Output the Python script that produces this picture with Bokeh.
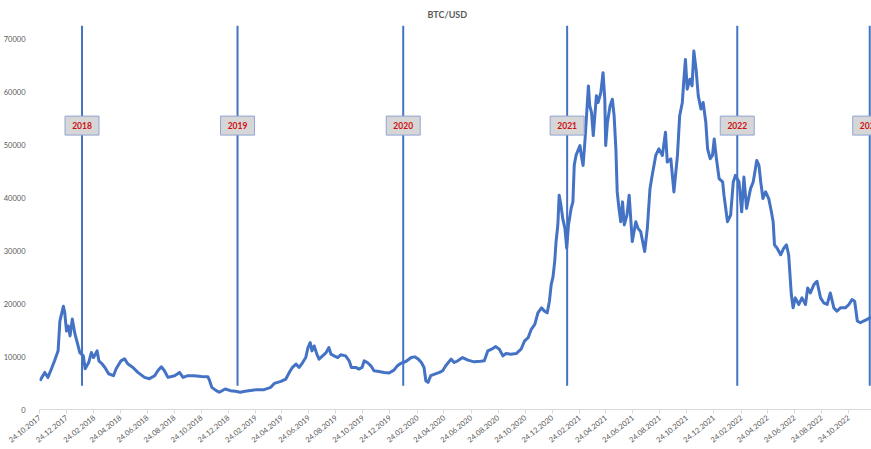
import pandas as pd
from bokeh.plotting import figure
from bokeh.models import FixedTicker, DatetimeTickFormatter, Range1d, NumeralTickFormatter, ColumnDataSource
from bokeh.core.properties import value
from bokeh.embed import file_html
from bokeh.resources import INLINE

TITLE = "BTC/USD"

DATES = [
    "2017-10-25", "2017-11-05", "2017-11-12", "2017-11-20", "2017-11-27", "2017-12-05", "2017-12-09",
    "2017-12-17", "2017-12-20", "2017-12-24", "2017-12-28", "2018-01-01", "2018-01-06", "2018-01-12",
    "2018-01-18", "2018-01-23", "2018-01-31", "2018-02-04", "2018-02-12", "2018-02-18", "2018-02-23",
    "2018-03-03", "2018-03-07", "2018-03-14", "2018-03-21", "2018-03-29", "2018-04-09", "2018-04-15",
    "2018-04-26", "2018-05-04", "2018-05-11", "2018-05-23", "2018-06-03", "2018-06-18", "2018-06-29",
    "2018-07-11", "2018-07-18", "2018-07-26", "2018-08-02", "2018-08-10", "2018-08-25", "2018-09-05",
    "2018-09-13", "2018-09-24", "2018-10-08", "2018-10-24", "2018-11-08", "2018-11-12", "2018-11-17",
    "2018-11-27", "2018-12-04", "2018-12-17", "2018-12-29", "2019-01-09", "2019-01-20", "2019-01-31",
    "2019-02-26", "2019-03-15", "2019-03-30", "2019-04-07", "2019-04-22", "2019-05-03", "2019-05-13",
    "2019-05-18", "2019-05-26", "2019-06-02", "2019-06-10", "2019-06-17", "2019-06-22", "2019-06-27",
    "2019-07-01", "2019-07-06", "2019-07-12", "2019-07-17", "2019-07-25", "2019-08-02", "2019-08-08",
    "2019-08-13", "2019-08-20", "2019-08-28", "2019-09-04", "2019-09-15", "2019-09-23", "2019-09-28",
    "2019-10-08", "2019-10-15", "2019-10-22", "2019-10-27", "2019-11-03", "2019-11-11", "2019-11-18",
    "2019-11-29", "2019-12-11", "2019-12-22", "2020-01-02", "2020-01-10", "2020-01-17", "2020-01-29",
    "2020-02-10", "2020-02-18", "2020-02-26", "2020-03-04", "2020-03-10", "2020-03-14", "2020-03-19",
    "2020-03-25", "2020-04-03", "2020-04-14", "2020-04-21", "2020-04-28", "2020-05-10", "2020-05-17",
    "2020-05-25", "2020-06-05", "2020-06-17", "2020-07-01", "2020-07-16", "2020-07-24", "2020-08-01",
    "2020-08-12", "2020-08-19", "2020-08-27", "2020-09-04", "2020-09-11", "2020-09-22", "2020-10-04",
    "2020-10-15", "2020-10-23", "2020-10-31", "2020-11-07", "2020-11-15", "2020-11-22", "2020-11-30",
    "2020-12-07", "2020-12-13", "2020-12-18", "2020-12-22", "2020-12-26", "2020-12-30", "2021-01-02",
    "2021-01-06", "2021-01-09", "2021-01-13", "2021-01-17", "2021-01-22", "2021-01-26", "2021-01-30",
    "2021-02-05", "2021-02-09", "2021-02-12", "2021-02-16", "2021-02-25", "2021-02-28", "2021-03-04",
    "2021-03-08", "2021-03-16", "2021-03-19", "2021-03-23", "2021-03-27", "2021-04-03", "2021-04-07",
    "2021-04-13", "2021-04-18", "2021-04-22", "2021-04-24", "2021-04-28", "2021-05-04", "2021-05-09",
    "2021-05-13", "2021-05-17", "2021-05-20", "2021-05-24", "2021-05-28", "2021-06-01", "2021-06-05",
    "2021-06-11", "2021-06-16", "2021-06-20", "2021-06-23", "2021-07-01", "2021-07-06", "2021-07-12",
    "2021-07-21", "2021-07-27", "2021-08-02", "2021-08-07", "2021-08-15", "2021-08-22", "2021-08-30",
    "2021-09-06", "2021-09-10", "2021-09-18", "2021-09-25", "2021-10-03", "2021-10-08", "2021-10-14",
    "2021-10-17", "2021-10-21", "2021-10-25", "2021-10-31", "2021-11-05", "2021-11-09", "2021-11-14",
    "2021-11-19", "2021-11-25", "2021-11-30", "2021-12-06", "2021-12-10", "2021-12-16", "2021-12-21",
    "2021-12-25", "2021-12-30", "2022-01-05", "2022-01-13", "2022-01-16", "2022-01-24", "2022-01-31",
    "2022-02-06", "2022-02-11", "2022-02-19", "2022-02-25", "2022-03-02", "2022-03-08", "2022-03-17",
    "2022-03-23", "2022-03-31", "2022-04-05", "2022-04-09", "2022-04-14", "2022-04-20", "2022-04-27",
    "2022-05-03", "2022-05-07", "2022-05-10", "2022-05-16", "2022-05-24", "2022-05-31", "2022-06-06",
    "2022-06-11", "2022-06-17", "2022-06-21", "2022-06-26", "2022-07-04", "2022-07-11", "2022-07-19",
    "2022-07-24", "2022-07-30", "2022-08-07", "2022-08-14", "2022-08-22", "2022-08-29", "2022-09-06",
    "2022-09-13", "2022-09-21", "2022-09-28", "2022-10-06", "2022-10-17", "2022-10-25", "2022-11-01",
    "2022-11-07", "2022-11-13", "2022-11-20", "2022-11-27", "2022-12-05", "2022-12-12", "2022-12-16",
]

PRICES = [
    5440, 7000, 6060, 7700, 9200, 11070, 16700,
    19500, 18250, 14800, 15760, 13900, 17070, 14260,
    12380, 10750, 10130, 7690, 8870, 10750, 9810,
    11070, 9190, 8630, 7880, 6750, 6380, 7690,
    9190, 9570, 8630, 7940, 7000, 6060, 5820,
    6380, 7320, 8070, 7320, 6060, 6380, 7000,
    6060, 6380, 6380, 6250, 6190, 5440, 4180,
    3560, 3250, 3880, 3560, 3430, 3250, 3430,
    3750, 3750, 4180, 4930, 5310, 5750, 7320,
    7940, 8570, 7940, 8870, 9810, 11690, 12630,
    11070, 12000, 10450, 9510, 10130, 10750, 11690,
    10450, 10130, 9810, 10320, 10130, 9190, 7940,
    7940, 7630, 7940, 9190, 8870, 8250, 7320,
    7190, 7000, 6880, 7440, 8250, 8690, 9060,
    9810, 9940, 9510, 8870, 7940, 5440, 5120,
    6380, 6690, 7000, 7320, 8250, 9510, 8870,
    9190, 9810, 9320, 9000, 9100, 9190, 11070,
    11500, 11880, 11380, 10130, 10560, 10450, 10560,
    11380, 12940, 13560, 15140, 16070, 18250, 19190,
    18570, 18250, 20450, 23580, 25000, 28000, 31700,
    34840, 40470, 38590, 36080, 34200, 30450, 34840,
    37950, 39200, 46090, 47970, 49840, 47970, 46090,
    50470, 61100, 57350, 56100, 51720, 59220, 57970,
    59840, 63600, 58590, 49840, 54220, 57350, 58590,
    55470, 49210, 41080, 37950, 35460, 39200, 34840,
    36710, 40470, 35460, 31700, 35460, 34200, 33580,
    29830, 34200, 41700, 44210, 47970, 49210, 47970,
    52340, 46710, 47340, 41080, 47970, 55470, 57970,
    61720, 66100, 60470, 62340, 61100, 67670, 64230,
    59220, 56720, 57970, 54220, 49210, 47340, 47970,
    51090, 47340, 43580, 42960, 40470, 35460, 36710,
    42960, 44210, 42960, 37330, 43900, 37950, 41700,
    42960, 47030, 46090, 42960, 39830, 41080, 39830,
    37330, 35460, 31080, 30450, 29210, 30450, 31080,
    29210, 21710, 19190, 21080, 19830, 21080, 19830,
    22960, 22010, 23580, 24210, 21080, 20140, 19830,
    22010, 19190, 18570, 19190, 19190, 19830, 20760,
    20450, 16700, 16380, 16700, 17010, 17320, 17300,
]

YEAR_LABELS = ["2018", "2019", "2020", "2021", "2022", "2023"]
YEAR_DATES = ["2018-01-28", "2019-01-14", "2020-01-23", "2021-01-27", "2022-02-15", "2022-12-11"]

Y_TICKS = [0, 10000, 20000, 30000, 40000, 50000, 60000, 70000]
X_TICK_LABEL_DATES = [f"{y}-{m:02d}-24" for y in range(2017, 2023) for m in (2, 4, 6, 8, 10, 12)
                      if (y, m) >= (2017, 10)]

BLUE = "#4472C4"
GREY_TXT = "#595959"
FONT = "Lato"

x_start = pd.Timestamp("2017-10-24")
x_end = x_start + pd.Timedelta(days=1878)
y_top = 72500
line_bottom = 4500
label_level = 53600

p = figure(width=871, height=449, x_axis_type="datetime", output_backend="svg",
           toolbar_location=None, x_range=Range1d(x_start, x_end), y_range=Range1d(0, y_top),
           min_border_left=38, min_border_right=0, min_border_top=24, min_border_bottom=40)

p.title.text = TITLE
p.title.align = "left"
p.title.offset = 388
p.title.text_font = FONT
p.title.text_font_size = "9px"
p.title.text_font_style = "bold"
p.title.text_color = GREY_TXT
p.title.standoff = 12

src = ColumnDataSource(dict(x=pd.to_datetime(DATES), y=PRICES))
p.line("x", "y", source=src, line_color=BLUE, line_width=3, line_join="round")

yd = pd.to_datetime(YEAR_DATES)
ysrc = ColumnDataSource(dict(x=yd, y0=[line_bottom] * len(yd), y1=[y_top] * len(yd),
                             ly=[label_level] * len(yd), t=YEAR_LABELS))
p.segment(x0="x", y0="y0", x1="x", y1="y1", source=ysrc, line_color=BLUE, line_width=2)
p.rect(x="x", y="ly", width=34, height=19, width_units="screen", height_units="screen",
       source=ysrc, fill_color="#D6D6D6", line_color="#8FA6D4", line_width=1)
p.text(x="x", y="ly", text="t", source=ysrc, text_align="center", text_baseline="middle",
       text_font=value(FONT), text_font_size="8.5px", text_font_style="bold", text_color="#D01010")

p.xgrid.grid_line_color = None
p.ygrid.grid_line_color = None
p.outline_line_color = None

xa = p.xaxis[0]
xa.ticker = FixedTicker(ticks=[pd.Timestamp(t).value // 10**6 for t in X_TICK_LABEL_DATES])
fmt = "%d.%m.%Y"
xa.formatter = DatetimeTickFormatter(days=fmt, months=fmt, years=fmt, hours=fmt, minutes=fmt,
                                     seconds=fmt, milliseconds=fmt, microseconds=fmt, minsec=fmt, hourmin=fmt)
xa.major_label_orientation = 0.68
xa.major_label_text_font = FONT
xa.major_label_text_font_size = "7.5px"
xa.major_label_text_color = GREY_TXT
xa.axis_line_color = "#D9D9D9"
xa.major_tick_line_color = "#D9D9D9"
xa.major_tick_out = 4
xa.major_tick_in = 0
xa.minor_tick_line_color = None
xa.major_label_standoff = 3

ya = p.yaxis[0]
ya.ticker = FixedTicker(ticks=Y_TICKS)
ya.formatter = NumeralTickFormatter(format="0")
ya.axis_line_color = None
ya.major_tick_line_color = None
ya.minor_tick_line_color = None
ya.major_label_text_font = FONT
ya.major_label_text_font_size = "7.5px"
ya.major_label_text_color = GREY_TXT
ya.major_label_standoff = 8

open("out.html", "w").write(file_html(p, INLINE))
